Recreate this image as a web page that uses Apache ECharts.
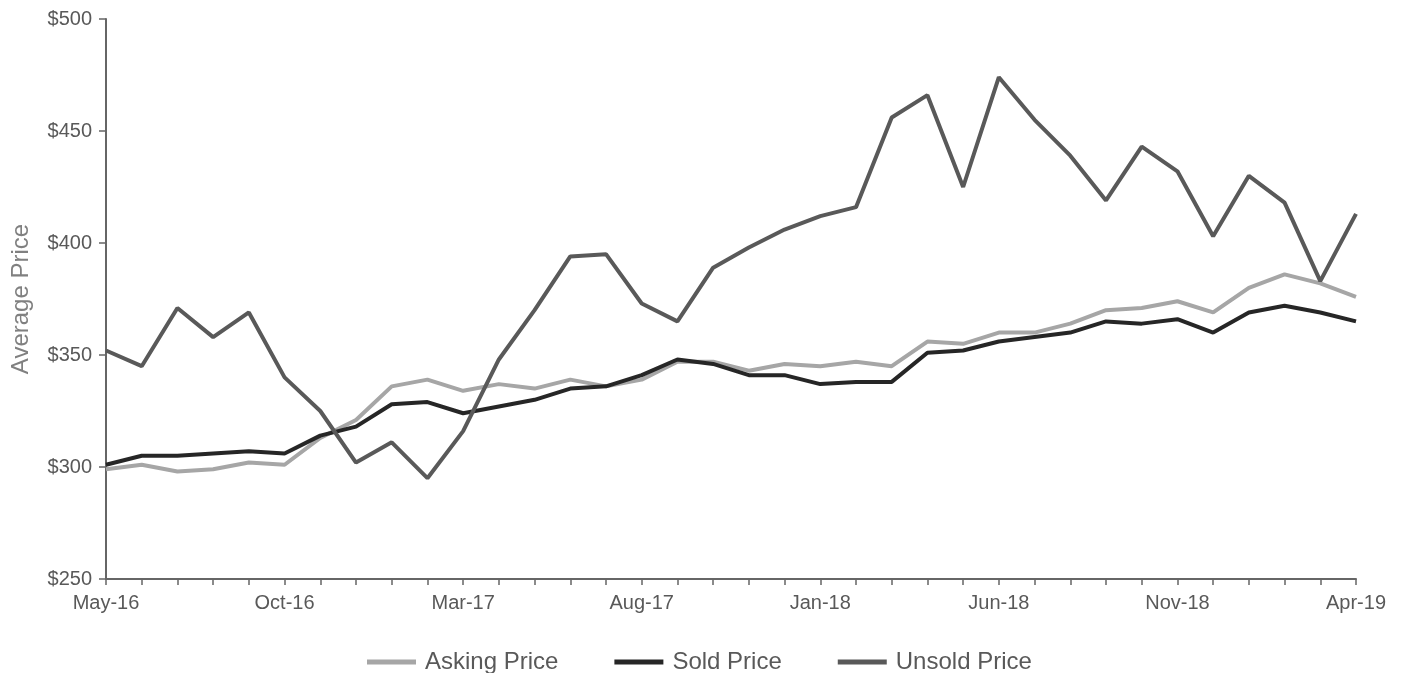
<!DOCTYPE html>
<html>
<head>
<meta charset="utf-8">
<script src="https://cdn.jsdelivr.net/npm/echarts@6/dist/echarts.min.js"></script>
<style>html,body{margin:0;padding:0;background:#fff;}#c{width:1408px;height:673px;}</style>
</head>
<body>
<div id="c"></div>
<script>
const categories = ["May-16","Jun-16","Jul-16","Aug-16","Sep-16","Oct-16","Nov-16","Dec-16","Jan-17","Feb-17","Mar-17","Apr-17","May-17","Jun-17","Jul-17","Aug-17","Sep-17","Oct-17","Nov-17","Dec-17","Jan-18","Feb-18","Mar-18","Apr-18","May-18","Jun-18","Jul-18","Aug-18","Sep-18","Oct-18","Nov-18","Dec-18","Jan-19","Feb-19","Mar-19","Apr-19"];
const askingPrice = [299,301,298,299,302,301,313,321,336,339,334,337,335,339,336,339,347,347,343,346,345,347,345,356,355,360,360,364,370,371,374,369,380,386,382,376];
const soldPrice = [301,305,305,306,307,306,314,318,328,329,324,327,330,335,336,341,348,346,341,341,337,338,338,351,352,356,358,360,365,364,366,360,369,372,369,365];
const unsoldPrice = [352,345,371,358,369,340,325,302,311,295,316,348,370,394,395,373,365,389,398,406,412,416,456,466,425,474,455,439,419,443,432,403,430,418,383,413];
const yTicks = {min:250, max:500, interval:50};

const chart = echarts.init(document.getElementById('c'));
const axisColor = '#666';
const txt = '#595959';
const ff = 'Liberation Sans, Arial, sans-serif';
chart.setOption({
  animation:false,
  textStyle:{fontFamily:ff},
  grid:{left:106, right:52, top:19, bottom:94, containLabel:false},
  legend:{
    top:645, left:362,
    itemWidth:49, itemHeight:5, itemGap:56,
    icon:'rect',
    textStyle:{fontSize:24, color:txt, fontFamily:ff, padding:[0,0,0,4]},
    data:['Asking Price','Sold Price','Unsold Price']
  },
  xAxis:{
    type:'category', data:categories, boundaryGap:false,
    axisLine:{lineStyle:{color:axisColor, width:2}},
    axisTick:{show:true, interval:0, length:6, lineStyle:{color:axisColor, width:1.5}},
    axisLabel:{interval:4, color:txt, fontSize:20, margin:14, fontFamily:ff},
    splitLine:{show:false}
  },
  yAxis:{
    type:'value', min:yTicks.min, max:yTicks.max, interval:yTicks.interval,
    name:'Average Price', nameLocation:'middle', nameGap:73, nameRotate:90,
    nameTextStyle:{color:'#808080', fontSize:24, fontFamily:ff},
    axisLine:{show:true, lineStyle:{color:axisColor, width:2}},
    axisTick:{show:true, length:7, lineStyle:{color:axisColor, width:1.5}},
    axisLabel:{color:txt, fontSize:20, margin:14, fontFamily:ff, formatter:v=>'$'+v},
    splitLine:{show:false}
  },
  series:[
    {name:'Asking Price', type:'line', data:askingPrice, symbol:'none', lineStyle:{color:'#a6a6a6', width:4}, itemStyle:{color:'#a6a6a6'}},
    {name:'Sold Price', type:'line', data:soldPrice, symbol:'none', lineStyle:{color:'#262626', width:4}, itemStyle:{color:'#262626'}},
    {name:'Unsold Price', type:'line', data:unsoldPrice, symbol:'none', lineStyle:{color:'#595959', width:4}, itemStyle:{color:'#595959'}}
  ]
});
</script>
</body>
</html>
